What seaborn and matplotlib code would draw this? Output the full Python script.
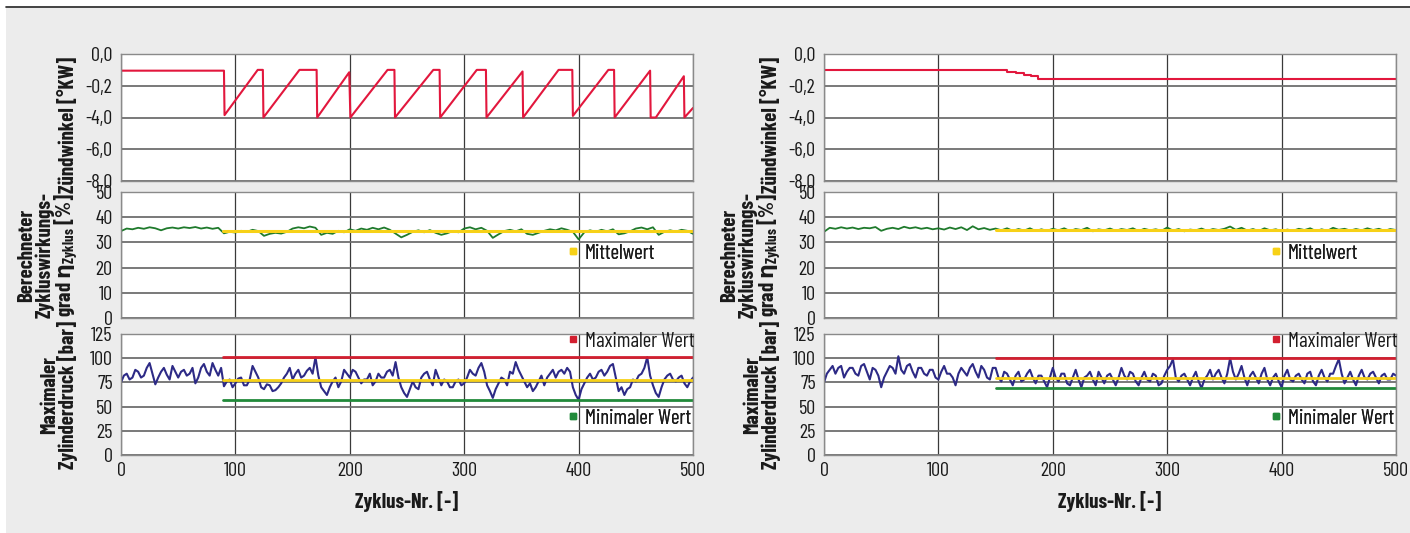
import numpy as np
import pandas as pd
import seaborn as sns
import matplotlib.pyplot as plt
from matplotlib.lines import Line2D
from matplotlib.patches import Rectangle
from matplotlib.ticker import FixedLocator, AutoMinorLocator, MultipleLocator

sns.set_style("white")
plt.rcParams["font.family"] = ["Barlow Condensed", "IBM Plex Sans Condensed", "DejaVu Sans"]
plt.rcParams["mathtext.fontset"] = "custom"
plt.rcParams["mathtext.bf"] = "DejaVu Sans:bold"

# ---- data ----
cycles = np.arange(0, 501, 5)        # efficiency samples
cycles_p = np.arange(0, 501, 2.5)    # pressure samples

# ignition angle, breakpoints (cycle, value)
ign_left_x = [0, 90, 90.5, 119.5, 124, 124.5, 156, 171, 171.5, 199.5, 200.5, 233, 239, 239.5,
              273, 278.5, 279, 311, 319, 319.5, 351, 351.5, 382.5, 394.5, 395, 426, 431, 431.5,
              462.5, 463, 467.5, 492, 492.5, 500]
ign_left_y = [-1.05, -1.05, -3.85, -1.0, -1.0, -4.0, -1.0, -1.0, -4.0, -1.15, -4.0, -1.0, -1.0, -4.0,
              -1.0, -1.0, -4.0, -1.0, -1.0, -4.0, -1.1, -4.0, -1.0, -1.0, -3.9, -1.0, -1.0, -4.0,
              -1.05, -4.0, -4.0, -1.4, -4.0, -3.4]
ign_right_x = [0, 155, 160, 168, 175, 181, 187, 500]
ign_right_y = [-1.0, -1.0, -1.15, -1.2, -1.3, -1.4, -1.55, -1.55]

eta_left = [34.5, 35.5, 35.2, 35.8, 35.4, 36.0, 35.6, 34.8, 35.6, 35.9, 35.5, 36.0, 35.7, 36.1, 35.5,
            35.9, 35.4, 35.8, 33.6, 34.2, 33.9, 34.6, 34.2, 35.0, 34.5, 32.6, 33.4, 33.8, 33.5, 34.2,
            35.5, 36.0, 35.6, 36.3, 35.8, 33.0, 33.8, 33.4, 34.6, 34.0, 35.2, 34.6, 35.5, 35.0, 35.8,
            35.2, 35.9, 35.0, 33.5, 32.0, 33.0, 34.2, 34.8, 34.0, 34.9, 33.8, 33.0, 33.6, 34.5, 34.0,
            35.5, 36.0, 35.2, 35.8, 34.6, 31.8, 33.2, 34.5, 35.0, 34.4, 35.2, 33.4, 33.0, 33.8, 34.6,
            35.2, 34.8, 35.6, 35.0, 34.2, 31.2, 34.0, 34.8, 34.2, 35.0, 34.4, 35.2, 33.2, 33.6, 34.4,
            35.5, 35.9, 35.2, 36.0, 33.0, 34.2, 34.8, 34.3, 35.0, 34.6, 33.4]
eta_right = [34.2, 35.8, 35.4, 36.0, 35.5, 35.9, 35.3, 35.8, 35.6, 36.1, 34.6, 35.4, 35.8, 35.3, 36.2,
             35.6, 36.0, 35.4, 35.8, 35.2, 35.6, 35.1, 35.9, 35.3, 36.0, 34.9, 36.4, 35.2, 35.7, 35.0,
             35.5, 34.8, 35.6, 34.6, 35.3, 34.7, 35.6, 34.5, 35.2, 34.6, 35.4, 34.8, 35.6, 34.5, 35.3,
             34.9, 35.8, 34.4, 35.2, 34.8, 35.5, 34.6, 35.3, 34.9, 35.6, 34.5, 35.4, 34.8, 35.2, 34.6,
             35.9, 34.7, 35.3, 34.4, 35.1, 34.8, 35.5, 34.6, 35.3, 34.9, 35.4, 36.3, 35.0, 35.8, 34.7,
             35.3, 34.5, 35.6, 34.8, 35.2, 34.4, 35.1, 34.6, 35.4, 34.9, 35.6, 34.5, 35.2, 34.6, 35.8,
             35.0, 35.4, 34.7, 35.3, 34.8, 35.6, 34.9, 35.4, 34.6, 35.3, 34.9]

p_left = [75, 82, 84, 78, 80, 88, 86, 80, 82, 90,
          95, 84, 73, 80, 86, 90, 83, 78, 92, 86,
          80, 86, 88, 82, 84, 90, 74, 80, 90, 94,
          86, 82, 95, 88, 82, 90, 71, 76, 78, 70,
          74, 79, 80, 72, 72, 78, 92, 86, 80, 70,
          68, 73, 72, 66, 67, 70, 74, 80, 84, 90,
          78, 84, 88, 80, 82, 87, 90, 84, 101, 82,
          70, 66, 62, 70, 76, 80, 70, 76, 88, 84,
          80, 88, 86, 80, 74, 78, 78, 84, 72, 76,
          84, 80, 80, 86, 88, 82, 96, 80, 70, 64,
          60, 68, 76, 70, 68, 80, 84, 86, 78, 72,
          88, 80, 72, 78, 76, 70, 70, 76, 78, 72,
          74, 80, 88, 84, 82, 90, 95, 86, 72, 66,
          59, 68, 74, 80, 78, 72, 86, 84, 96, 88,
          82, 76, 70, 74, 66, 70, 76, 82, 72, 80,
          84, 88, 80, 86, 88, 84, 90, 86, 70, 62,
          57, 68, 74, 80, 84, 78, 80, 86, 88, 82,
          86, 92, 94, 80, 66, 70, 62, 68, 70, 78,
          76, 82, 84, 90, 101, 82, 72, 64, 60, 70,
          78, 82, 84, 78, 76, 80, 82, 74, 70, 76, 80]
p_right = [75, 84, 88, 92, 84, 90, 92, 80, 86, 90,
           90, 84, 82, 92, 94, 86, 78, 90, 88, 82,
           70, 80, 86, 92, 90, 84, 102, 88, 84, 92,
           94, 86, 80, 90, 90, 84, 82, 88, 88, 80,
           78, 86, 92, 84, 84, 80, 72, 84, 90, 86,
           82, 90, 94, 86, 80, 92, 88, 80, 78, 90,
           90, 80, 76, 86, 84, 78, 72, 82, 86, 76,
           78, 84, 88, 80, 74, 82, 82, 76, 70, 80,
           90, 80, 76, 84, 84, 74, 72, 80, 88, 78,
           70, 80, 82, 86, 78, 72, 86, 80, 74, 82,
           84, 78, 72, 80, 90, 82, 78, 86, 84, 76,
           72, 80, 86, 78, 76, 84, 82, 72, 74, 82,
           88, 92, 99, 80, 76, 82, 84, 78, 72, 80,
           86, 76, 69, 78, 82, 88, 78, 84, 88, 80,
           74, 84, 100, 86, 78, 84, 92, 80, 72, 82,
           86, 80, 74, 84, 90, 78, 72, 80, 84, 76,
           70, 82, 88, 78, 76, 82, 84, 78, 74, 84,
           86, 76, 72, 82, 88, 80, 76, 84, 84, 92,
           99, 84, 74, 80, 86, 78, 72, 82, 88, 80,
           78, 84, 86, 80, 74, 82, 84, 78, 78, 84, 82]

# evaluation window start and statistics
start_left, start_right = 89, 150
eta_mean_left, eta_mean_right = 34.6, 35.1
p_max_left, p_mean_left, p_min_left = 101, 77, 57
p_max_right, p_mean_right, p_min_right = 100, 80, 69

ign_ticks = [0, -2, -4, -6, -8]
ign_ticklabels = ["0,0", "-0,2", "-4,0", "-6,0", "-8,0"]
eta_ticks = [0, 10, 20, 30, 40, 50]
p_ticks = [0, 25, 50, 75, 100, 125]
x_ticks = [0, 100, 200, 300, 400, 500]

RED = "#e2173d"
GREEN = "#1f7a2c"
YELLOW = "#f7d117"
BLUE = "#2d2a86"
MAXRED = "#d21f30"
MINGREEN = "#218a3a"
TXT = "#1a1a1a"

fig = plt.figure(figsize=(14.1, 5.33), dpi=100)
fig.patch.set_facecolor("white")
fig.patches.append(Rectangle((6 / 1410, 0), 1, 1 - 8 / 533, transform=fig.transFigure,
                             facecolor="#ececec", edgecolor="none", zorder=-10))
fig.add_artist(Line2D([6 / 1410, 1], [1 - 7 / 533, 1 - 7 / 533], transform=fig.transFigure,
                      color="#222222", lw=1.2))

W, H = 1410, 533


def box(x0, x1, y0, y1):
    return [x0 / W, 1 - y1 / H, (x1 - x0) / W, (y1 - y0) / H]


tick_fs = 14.5
lab_fs = 15
LABEL_X = -0.075


def style(ax, yticks, ylim, minor_n, show_x):
    ax.set_facecolor("white")
    ax.set_xlim(0, 500)
    ax.set_ylim(*ylim)
    ax.yaxis.set_major_locator(FixedLocator(yticks))
    ax.yaxis.set_minor_locator(AutoMinorLocator(minor_n))
    ax.xaxis.set_major_locator(FixedLocator(x_ticks))
    ax.xaxis.set_minor_locator(MultipleLocator(50))
    ax.grid(True, axis="y", which="major", color="#6e6e6e", lw=1.3)
    ax.grid(True, axis="x", which="major", color="#3a3a3a", lw=0.9)
    ax.set_axisbelow(True)
    for s in ax.spines.values():
        s.set_color("#8a8a8a")
        s.set_linewidth(1.0)
    ax.tick_params(axis="y", which="major", direction="out", length=4, color="#555555",
                   labelsize=tick_fs, pad=2, labelcolor=TXT)
    ax.tick_params(axis="y", which="minor", direction="out", length=2.5, color="#777777")
    ax.tick_params(axis="x", which="major", direction="out", length=0, labelsize=tick_fs,
                   pad=5, labelbottom=show_x, labelcolor=TXT)
    ax.tick_params(axis="x", which="minor", direction="in", length=3, color="#777777")
    ax.set_xlabel("")
    ax.set_ylabel("")


def small_legend(ax, color, label, x, y):
    h = Line2D([], [], marker="s", ls="", color=color, markersize=4.5)
    leg = ax.legend([h], [label], loc="center left", bbox_to_anchor=(x, y),
                    frameon=False, handlelength=0.6, handletextpad=0.25, borderpad=0,
                    borderaxespad=0, prop=dict(size=15), labelcolor=TXT)
    ax.add_artist(leg)


panels = [
    dict(x0=121, x1=693, ign=(ign_left_x, ign_left_y), eta=eta_left, p=p_left, start=start_left,
         eta_mean=eta_mean_left, pmax=p_max_left, pmean=p_mean_left, pmin=p_min_left, steps=False),
    dict(x0=824, x1=1396, ign=(ign_right_x, ign_right_y), eta=eta_right, p=p_right, start=start_right,
         eta_mean=eta_mean_right, pmax=p_max_right, pmean=p_mean_right, pmin=p_min_right, steps=True),
]

for pn in panels:
    ax1 = fig.add_axes(box(pn["x0"], pn["x1"], 54, 181))
    ax2 = fig.add_axes(box(pn["x0"], pn["x1"], 192, 318))
    ax3 = fig.add_axes(box(pn["x0"], pn["x1"], 334, 455))

    # ignition angle
    kw = dict(drawstyle="steps-post") if pn["steps"] else {}
    sns.lineplot(x=pn["ign"][0], y=pn["ign"][1], ax=ax1, color=RED, lw=1.5, sort=False, **kw)
    style(ax1, ign_ticks, (-8, 0), 4, False)
    ax1.set_yticklabels(ign_ticklabels)
    ax1.set_ylabel("Zündwinkel [°KW]", fontsize=lab_fs, fontweight="bold", color=TXT)
    ax1.yaxis.set_label_coords(LABEL_X, 0.44)

    # cycle efficiency
    sns.lineplot(x=cycles, y=pn["eta"], ax=ax2, color=GREEN, lw=1.3)
    sns.lineplot(x=[pn["start"], 500], y=[pn["eta_mean"]] * 2, ax=ax2, color=YELLOW, lw=2.2)
    style(ax2, eta_ticks, (0, 50), 2, False)
    ax2.set_ylabel("Berechneter\nZykluswirkungs-\ngrad $\\mathbf{η}_{\\mathregular{Zyklus}}$ [%]",
                   fontsize=lab_fs, fontweight="bold", linespacing=0.9, color=TXT)
    ax2.yaxis.set_label_coords(LABEL_X + 0.004, 0.5)
    small_legend(ax2, YELLOW, "Mittelwert", 0.78, 0.515)

    # peak cylinder pressure
    sns.lineplot(x=cycles_p, y=pn["p"], ax=ax3, color=BLUE, lw=1.5)
    sns.lineplot(x=[pn["start"], 500], y=[pn["pmax"]] * 2, ax=ax3, color=MAXRED, lw=2)
    sns.lineplot(x=[pn["start"], 500], y=[pn["pmean"]] * 2, ax=ax3, color=YELLOW, lw=2)
    sns.lineplot(x=[pn["start"], 500], y=[pn["pmin"]] * 2, ax=ax3, color=MINGREEN, lw=2)
    style(ax3, p_ticks, (0, 125), 5, True)
    ax3.set_ylabel("Maximaler\nZylinderdruck [bar]", fontsize=lab_fs, fontweight="bold",
                   linespacing=0.9, color=TXT)
    ax3.yaxis.set_label_coords(LABEL_X, 0.5)
    ax3.set_xlabel("Zyklus-Nr. [-]", fontsize=lab_fs, fontweight="bold", labelpad=8, color=TXT)
    small_legend(ax3, MAXRED, "Maximaler Wert", 0.78, 0.94)
    small_legend(ax3, MINGREEN, "Minimaler Wert", 0.78, 0.305)

fig.savefig("out.png", dpi=100, facecolor=fig.get_facecolor())
